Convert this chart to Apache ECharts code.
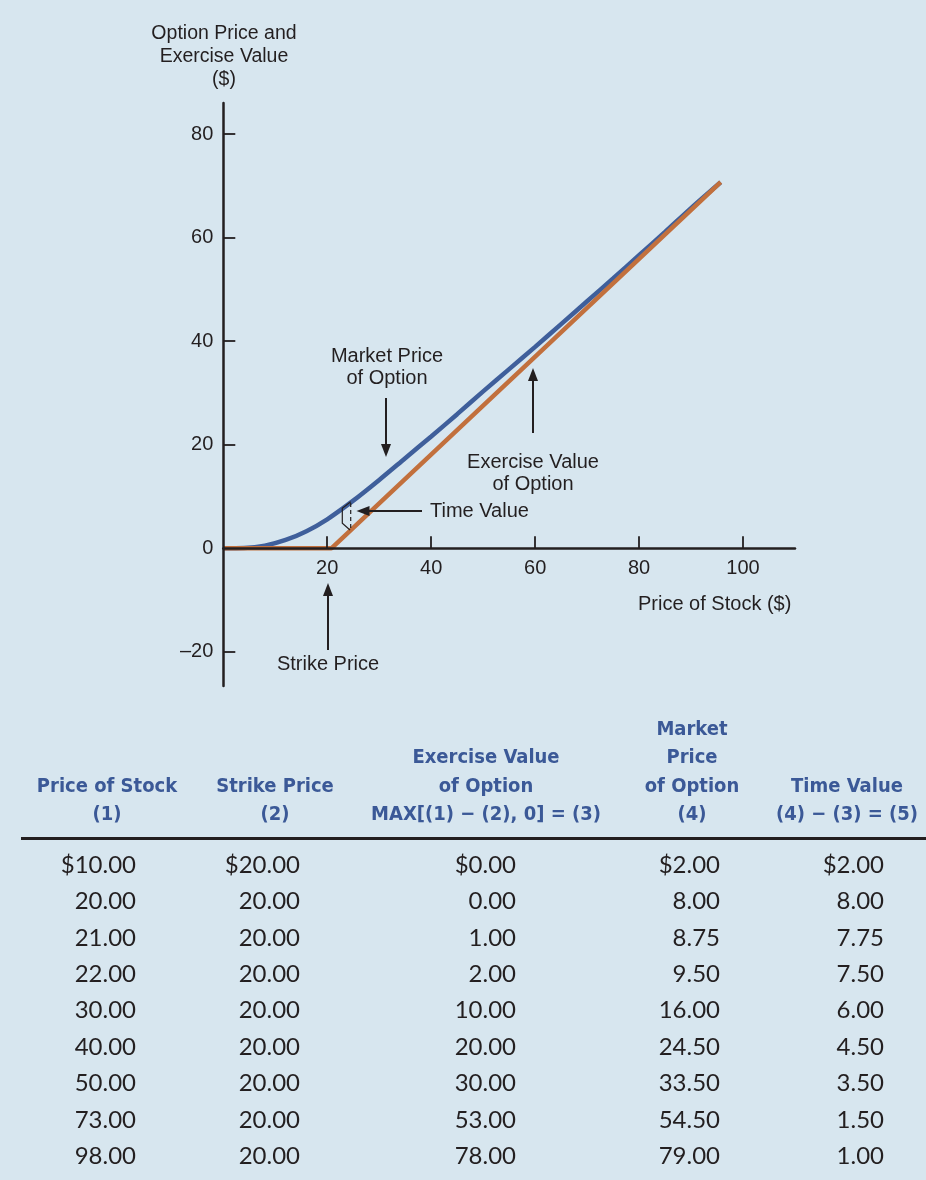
<!DOCTYPE html>
<html>
<head>
<meta charset="utf-8">
<script src="https://cdn.jsdelivr.net/npm/echarts@6.0.0/dist/echarts.min.js"></script>
<style>
html,body{margin:0;padding:0;background:#d7e6ef;}
#chart{width:926px;height:1180px;}
</style>
</head>
<body>
<div id="chart"></div>
<script>
// ---- Chart data ----
const curveStock = [0, 4, 8, 12, 16, 20, 25, 30, 35, 40, 45, 50, 55, 60, 65, 70, 75, 80, 85, 90, 95.7];
const marketCurve = [0, 0.05, 0.5, 1.6, 3.3, 5.6, 9.2, 13.2, 17.4, 21.6, 25.9, 30.3, 34.6, 38.9, 43.3, 47.7, 52.1, 56.6, 61.1, 65.7, 70.7];
const exerciseStock = [0, 20.8, 95.7];
const exerciseCurve = [0, 0, 70.7];
const xTicks = [20, 40, 60, 80, 100];
const yTickLabels = [-20, 0, 20, 40, 60, 80];
const yTickMarks = [-20, 20, 40, 60, 80];

// ---- Table data ----
const stockPrice = [10, 20, 21, 22, 30, 40, 50, 73, 98];
const strikePrice = [20, 20, 20, 20, 20, 20, 20, 20, 20];
const exerciseValue = [0, 0, 1, 2, 10, 20, 30, 53, 78];
const marketPrice = [2, 8, 8.75, 9.5, 16, 24.5, 33.5, 54.5, 79];
const timeValue = [2, 8, 7.75, 7.5, 6, 4.5, 3.5, 1.5, 1];
const headers = [
  ['Price of Stock', '(1)'],
  ['Strike Price', '(2)'],
  ['Exercise Value', 'of Option', 'MAX[(1) \u2212 (2), 0] = (3)'],
  ['Market', 'Price', 'of Option', '(4)'],
  ['Time Value', '(4) \u2212 (3) = (5)']
];

const ink = '#231f20';
const blue = '#3f5f9b';
const orange = '#c2703d';
const headBlue = '#3b5997';
const sansFont = "'Liberation Sans', Arial, sans-serif";
const headFont = "'Liberation Sans Narrow', 'DejaVu Sans Condensed', sans-serif";
const numFont = "Lato, 'Noto Sans', sans-serif";

const chart = echarts.init(document.getElementById('chart'));

function txt(text, x, y, align, vAlign, size, opts) {
  return {
    type: 'text', z: 10,
    style: Object.assign({
      text: text, x: x, y: y, align: align, verticalAlign: vAlign,
      fontSize: size, fontFamily: sansFont, fill: ink
    }, opts || {})
  };
}
function line(x1, y1, x2, y2, w, extra) {
  return {type: 'line', z: 10, shape: {x1, y1, x2, y2},
    style: Object.assign({stroke: ink, lineWidth: w}, extra || {})};
}
function arrow(x1, y1, x2, y2) {
  const dx = x2 - x1, dy = y2 - y1, L = Math.hypot(dx, dy);
  const ux = dx / L, uy = dy / L, hl = 13, hw = 5;
  const bx = x2 - ux * hl, by = y2 - uy * hl;
  return [
    line(x1, y1, bx + ux * 2, by + uy * 2, 2),
    {type: 'polygon', z: 10, shape: {points: [[x2, y2], [bx - uy * hw, by + ux * hw], [bx + uy * hw, by - ux * hw]]},
      style: {fill: ink}}
  ];
}

const graphics = [];
graphics.push(txt('Option Price and\nExercise Value\n($)', 224, 22.5, 'center', 'top', 19.5, {lineHeight: 23}));
graphics.push(txt('Price of Stock ($)', 638, 604, 'left', 'middle', 20));
graphics.push(txt('Market Price\nof Option', 387, 346, 'center', 'top', 20, {lineHeight: 21.5}));
graphics.push(txt('Exercise Value\nof Option', 533, 451, 'center', 'top', 20, {lineHeight: 22}));
graphics.push(txt('Time Value', 430, 511, 'left', 'middle', 20));
graphics.push(txt('Strike Price', 328, 664, 'center', 'middle', 20));
graphics.push(...arrow(386, 398, 386, 457));
graphics.push(...arrow(533, 433, 533, 368));
graphics.push(...arrow(422, 511, 356.5, 511));
graphics.push(...arrow(328, 650, 328, 583));
graphics.push({type: 'polyline', z: 10, shape: {points: [[350.7, 501.7], [342.3, 508.3], [342.3, 523.3], [350, 530]]},
  style: {stroke: ink, lineWidth: 1.2, fill: null}});
graphics.push(line(350.7, 503, 350.7, 530, 1.2, {lineDash: [4, 3]}));

// table header
const headCenters = [107, 275, 486, 692, 847];
const headRows = [729.5, 758, 786.5, 815];
headers.forEach((lines, c) => {
  const start = headRows.length - lines.length;
  lines.forEach((t, i) => {
    graphics.push(txt(t, headCenters[c], headRows[start + i], 'center', 'middle', 20,
      {fontFamily: headFont, fontWeight: 'bold', fill: headBlue}));
  });
});
graphics.push({type: 'rect', z: 10, shape: {x: 21, y: 837, width: 905, height: 3}, style: {fill: ink}});

// table body
const colRight = [136, 300, 516, 720, 884];
const cols = [stockPrice, strikePrice, exerciseValue, marketPrice, timeValue];
for (let r = 0; r < stockPrice.length; r++) {
  const y = 865 + r * 36.4;
  cols.forEach((arr, c) => {
    const s = (r === 0 ? '$' : '') + arr[r].toFixed(2);
    graphics.push(txt(s, colRight[c], y, 'right', 'middle', 24, {fontFamily: numFont}));
  });
}

const option = {
  backgroundColor: '#d7e6ef',
  animation: false,
  grid: {left: 223.3, right: 131, top: 103, bottom: 494, containLabel: false},
  xAxis: {
    type: 'value', min: 0, max: 110, z: 5,
    axisLine: {show: true, onZero: true, lineStyle: {color: ink, width: 2.5}},
    axisTick: {show: true, inside: true, length: 12, customValues: xTicks, lineStyle: {color: ink, width: 1.8}},
    axisLabel: {show: false},
    splitLine: {show: false}
  },
  yAxis: {
    type: 'value', min: -26.6, max: 86, z: 5,
    axisLine: {show: true, onZero: true, lineStyle: {color: ink, width: 2.5}},
    axisTick: {show: true, inside: true, length: 12, customValues: yTickMarks, lineStyle: {color: ink, width: 1.8}},
    axisLabel: {show: true, customValues: yTickLabels, margin: 10, fontSize: 20, fontFamily: sansFont, color: ink,
      formatter: v => v < 0 ? '\u2013' + Math.abs(v) : String(v)},
    splitLine: {show: false}
  },
  series: [
    {
      name: 'Market Price of Option', type: 'line', smooth: 0.3, showSymbol: false, z: 2,
      data: curveStock.map((x, i) => [x, marketCurve[i]]),
      lineStyle: {color: blue, width: 4.5}
    },
    {
      name: 'Exercise Value of Option', type: 'line', showSymbol: false, z: 3,
      data: exerciseStock.map((x, i) => [x, exerciseCurve[i]]),
      lineStyle: {color: orange, width: 4.5}
    }
  ],
  graphic: graphics
};
chart.setOption(option);

// x-axis tick labels placed just below the zero line, positioned via the chart's own scale
const xLabelGraphics = xTicks.map(v => {
  const p = chart.convertToPixel({gridIndex: 0}, [v, 0]);
  return txt(String(v), p[0], p[1] + 20, 'center', 'middle', 20);
});
chart.setOption({graphic: graphics.concat(xLabelGraphics)});
</script>
</body>
</html>
